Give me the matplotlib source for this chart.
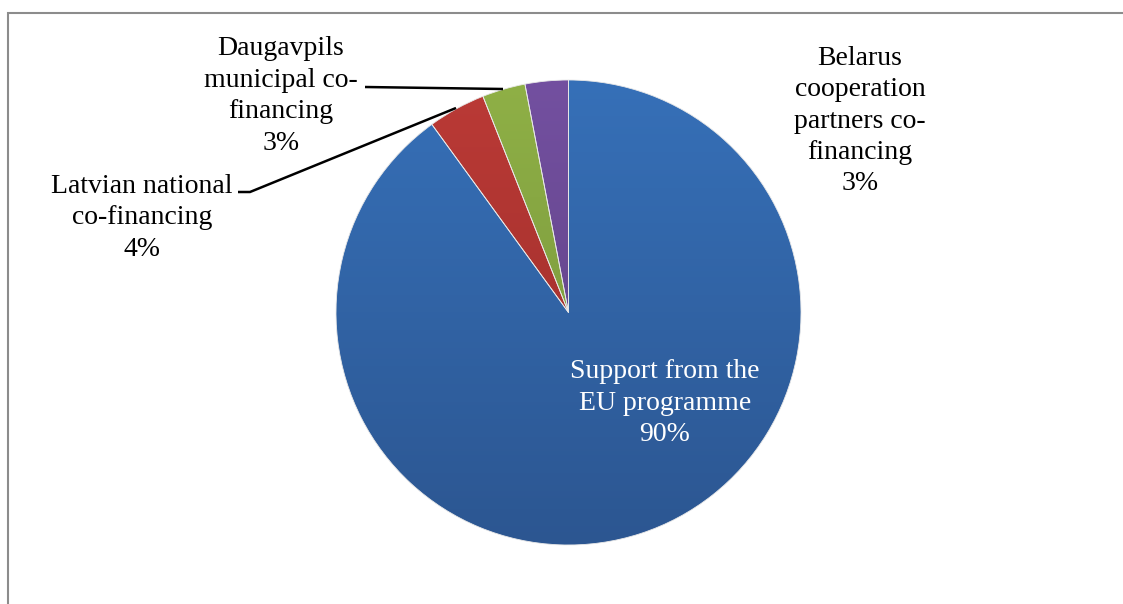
import numpy as np
import matplotlib.pyplot as plt
from matplotlib.colors import LinearSegmentedColormap
from matplotlib.patches import Rectangle

plt.rcParams['font.family'] = ['Liberation Serif', 'DejaVu Serif']

# data
labels = ['Support from the\nEU programme', 'Latvian national\nco-financing',
          'Daugavpils\nmunicipal co-\nfinancing', 'Belarus\ncooperation\npartners co-\nfinancing']
shares = [90, 4, 3, 3]
top_colors = ['#3670b8', '#bb3a36', '#8fb046', '#7350a0']
bottom_colors = ['#2c5691', '#982c29', '#73903a', '#5c3f80']

W, H = 1123, 604
fig = plt.figure(figsize=(W / 100, H / 100), dpi=100)
ax = fig.add_axes([0, 0, 1, 1])

cx, cy, r = 568.5, H - 312.5, 232.5

wedges, _ = ax.pie(shares, center=(cx, cy), radius=r, startangle=90,
                   counterclock=False, frame=True,
                   wedgeprops=dict(edgecolor='#e8e8e8', linewidth=0.6))

# vertical gradient on each slice
grad = np.linspace(1, 0, 256).reshape(-1, 1)
for w, c1, c2 in zip(wedges, top_colors, bottom_colors):
    cmap = LinearSegmentedColormap.from_list('g', [c2, c1])
    im = ax.imshow(grad, cmap=cmap, extent=(cx - r, cx + r, cy - r, cy + r),
                   origin='upper', aspect='auto', zorder=w.get_zorder())
    im.set_clip_path(w)
    w.set_facecolor('none')
    w.set_zorder(w.get_zorder() + 0.1)
ax.set_xlim(0, W)
ax.set_ylim(0, H)
ax.set_aspect('equal')
ax.axis('off')

fs = 20
ls = 1.34
# labels
ax.text(665, H - 403, labels[0] + '\n' + '%d%%' % shares[0], color='white',
        ha='center', va='center', fontsize=fs, linespacing=ls)
ax.text(142, H - 218, labels[1] + '\n' + '%d%%' % shares[1], color='black',
        ha='center', va='center', fontsize=fs, linespacing=ls)
ax.text(281, H - 96, labels[2] + '\n' + '%d%%' % shares[2], color='black',
        ha='center', va='center', fontsize=fs, linespacing=ls)
ax.text(860, H - 121, labels[3] + '\n' + '%d%%' % shares[3], color='black',
        ha='center', va='center', fontsize=fs, linespacing=ls)

# leader lines
ax.plot([238, 250, 456], [H - 192, H - 192, H - 108], color='black', lw=1.8,
        solid_capstyle='butt')
ax.plot([365, 503], [H - 87, H - 89], color='black', lw=1.8,
        solid_capstyle='butt')

# chart frame
ax.add_patch(Rectangle((8, -10), W + 20, H - 13 + 10, fill=False,
                       edgecolor='#8c8c8c', lw=1.5, clip_on=False))

fig.savefig('out.png', dpi=100)
